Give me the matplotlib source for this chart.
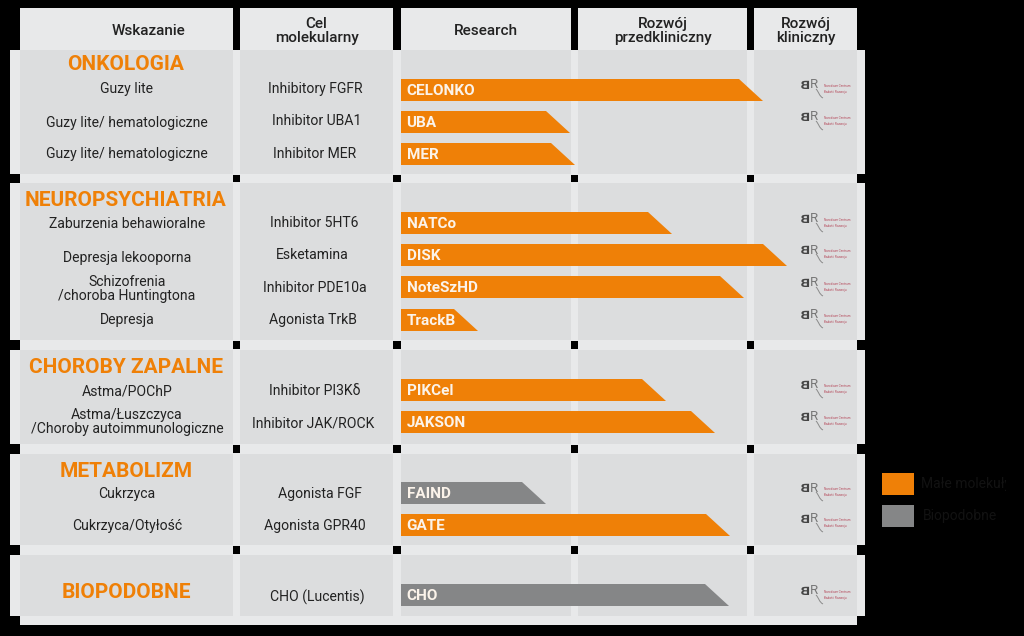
import matplotlib
matplotlib.use("Agg")
import matplotlib.pyplot as plt
from matplotlib.patches import Rectangle, Polygon, PathPatch
from matplotlib.path import Path
from matplotlib.textpath import TextPath
from matplotlib.font_manager import FontProperties
from matplotlib.transforms import Affine2D

plt.rcParams["font.family"] = ["Roboto", "DejaVu Sans"]

ORANGE = "#ef8007"
GREY = "#858687"
LIGHT = "#e8e9ea"
DARK = "#dcddde"
INK = "#222222"

# Table
headers = ["Wskazanie", "Cel\nmolekularny", "Research", "Rozwój\nprzedkliniczny", "Rozwój\nkliniczny"]
groups = ["ONKOLOGIA", "NEUROPSYCHIATRIA", "CHOROBY ZAPALNE", "METABOLIZM", "BIOPODOBNE"]
group_tops = [50, 183, 350, 454, 555]
group_bottoms = [174, 340, 444, 545, 616]
group_label_y = [63, 199, 366, 470, 591]

indications = ["Guzy lite", "Guzy lite/ hematologiczne", "Guzy lite/ hematologiczne",
               "Zaburzenia behawioralne", "Depresja lekooporna",
               "Schizofrenia\n/choroba Huntingtona", "Depresja",
               "Astma/POChP", "Astma/Łuszczyca\n/Choroby autoimmunologiczne",
               "Cukrzyca", "Cukrzyca/Otyłość", ""]
indication_y = [88, 122, 153, 223, 257, 288, 319, 390, 421, 493, 525, 596]
targets = ["Inhibitory FGFR", "Inhibitor UBA1", "Inhibitor MER",
           "Inhibitor 5HT6", "Esketamina", "Inhibitor PDE10a", "Agonista TrkB",
           "Inhibitor PI3Kδ", "Inhibitor JAK/ROCK",
           "Agonista FGF", "Agonista GPR40", "CHO (Lucentis)"]
target_x = [315, 317, 315, 314, 312, 315, 313, 315, 313, 320, 315, 317]
target_y = [88, 120, 153, 222, 254, 287, 319, 390, 422, 493, 525, 596]

# Bars: programme name, how far it reaches, its row and type
programmes = ["CELONKO", "UBA", "MER", "NATCo", "DISK", "NoteSzHD", "TrackB",
              "PIKCel", "JAKSON", "FAIND", "GATE", "CHO"]
bar_ends = [763, 570, 575, 672, 787, 744, 478, 666, 715, 546, 730, 729]
bar_tops = [79, 111, 143, 212, 244, 276, 309, 379, 411, 482, 514, 584]
bar_kinds = ["m", "m", "m", "m", "m", "m", "m", "m", "m", "b", "m", "b"]
logo_y = [88, 120, 222, 253, 286, 318, 388, 420, 491, 522, 594]

legend_labels = ["Małe molekuły", "Biopodobne"]

col_left = [20, 240, 401, 578, 754]
col_right = [233, 393, 571, 747, 857]

fig = plt.figure(figsize=(10.24, 6.36), dpi=100, facecolor="black")
ax = fig.add_axes([0, 0, 1, 1])
ax.set_xlim(0, 1024)
ax.set_ylim(636, 0)
ax.axis("off")

bold_font = FontProperties(family="Roboto", weight="bold")
mirror_b = TextPath((0, 0), "B", size=11, prop=bold_font)


def box(ax, x0, y0, x1, y1, color, z=1):
    ax.add_patch(Rectangle((x0, y0), x1 - x0, y1 - y0, facecolor=color, edgecolor="none", zorder=z))


# headers
for left, right, head in zip(col_left, col_right, headers):
    box(ax, left, 8, right, 50, LIGHT)
    ax.text((left + right) / 2 if left != 20 else 149, 31, head, ha="center", va="center",
            fontsize=11, fontweight="medium", color=INK, linespacing=0.95, zorder=5)

# light bands between groups, then the group backgrounds and cells
for i, (top, bottom) in enumerate(zip(group_tops, group_bottoms)):
    next_top = group_tops[i + 1] if i < 4 else 625
    box(ax, 20, bottom, 857, next_top, LIGHT)
    for gap_l, gap_r in zip(col_right[:-1], col_left[1:]):
        if i < 4:
            box(ax, gap_l, bottom + 1, gap_r, next_top - 1, "black", 2)
    box(ax, 10, top, 865, bottom, LIGHT, 2)
    for left, right in zip(col_left, col_right):
        box(ax, left, top, right, bottom, DARK, 3)
    ax.text(126, group_label_y[i] + 1.5, groups[i], ha="center", va="center", fontsize=15,
            fontweight="bold", color=ORANGE, zorder=5)

# row labels
for text, y in zip(indications, indication_y):
    if text:
        ax.text(127, y + 1, text, ha="center", va="center", fontsize=10.1, color=INK,
                linespacing=1.0, zorder=5)
for text, x, y in zip(targets, target_x, target_y):
    ax.text(x, y + 1, text, ha="center", va="center", fontsize=10.1, color=INK, zorder=5)

# chamfered bars
BAR_H = 22
CUT = 24
for name, end, top, kind in zip(programmes, bar_ends, bar_tops, bar_kinds):
    color = ORANGE if kind == "m" else GREY
    ax.add_patch(Polygon([(401, top), (end - CUT, top), (end, top + BAR_H), (401, top + BAR_H)],
                         closed=True, facecolor=color, edgecolor="none", zorder=4))
    ax.text(406.5, top + BAR_H / 2 + 1, name, ha="left", va="center", fontsize=11,
            fontweight="bold", color="#fbf3ea", zorder=5)

# logos in the clinical column
for y in logo_y:
    flip = Affine2D().scale(-1.35, -1.05).translate(810, y + 1) + ax.transData
    ax.add_patch(PathPatch(mirror_b, facecolor="#454545", edgecolor="none", transform=flip, zorder=5))
    ax.text(810, y - 3, "R", ha="left", va="center", fontsize=9.5, color="#777777", zorder=5)
    tail = Path([(816, y + 1), (819, y + 4), (819, y + 8), (823, y + 10)],
                [Path.MOVETO, Path.CURVE4, Path.CURVE4, Path.CURVE4])
    ax.add_patch(PathPatch(tail, facecolor="none", edgecolor="#8a8a8a", lw=0.7, zorder=5))
    ax.text(824, y + 1, "Narodowe Centrum\nBadań i Rozwoju", ha="left", va="center",
            fontsize=2.2, color="#b5485a", linespacing=1.7, zorder=5)

# legend
for y, color, label, tx in zip([473, 505], [ORANGE, GREY], legend_labels, [921, 923]):
    box(ax, 882, y, 914, y + 22, color)
    t = ax.text(tx, y + 11, label, ha="left", va="center", fontsize=10, color="#121212", zorder=5)
    t.set_clip_on(True)
    t.set_clip_path(Rectangle((882, 460), 124, 80, transform=ax.transData))

fig.savefig("out.png", dpi=100, facecolor="black")
